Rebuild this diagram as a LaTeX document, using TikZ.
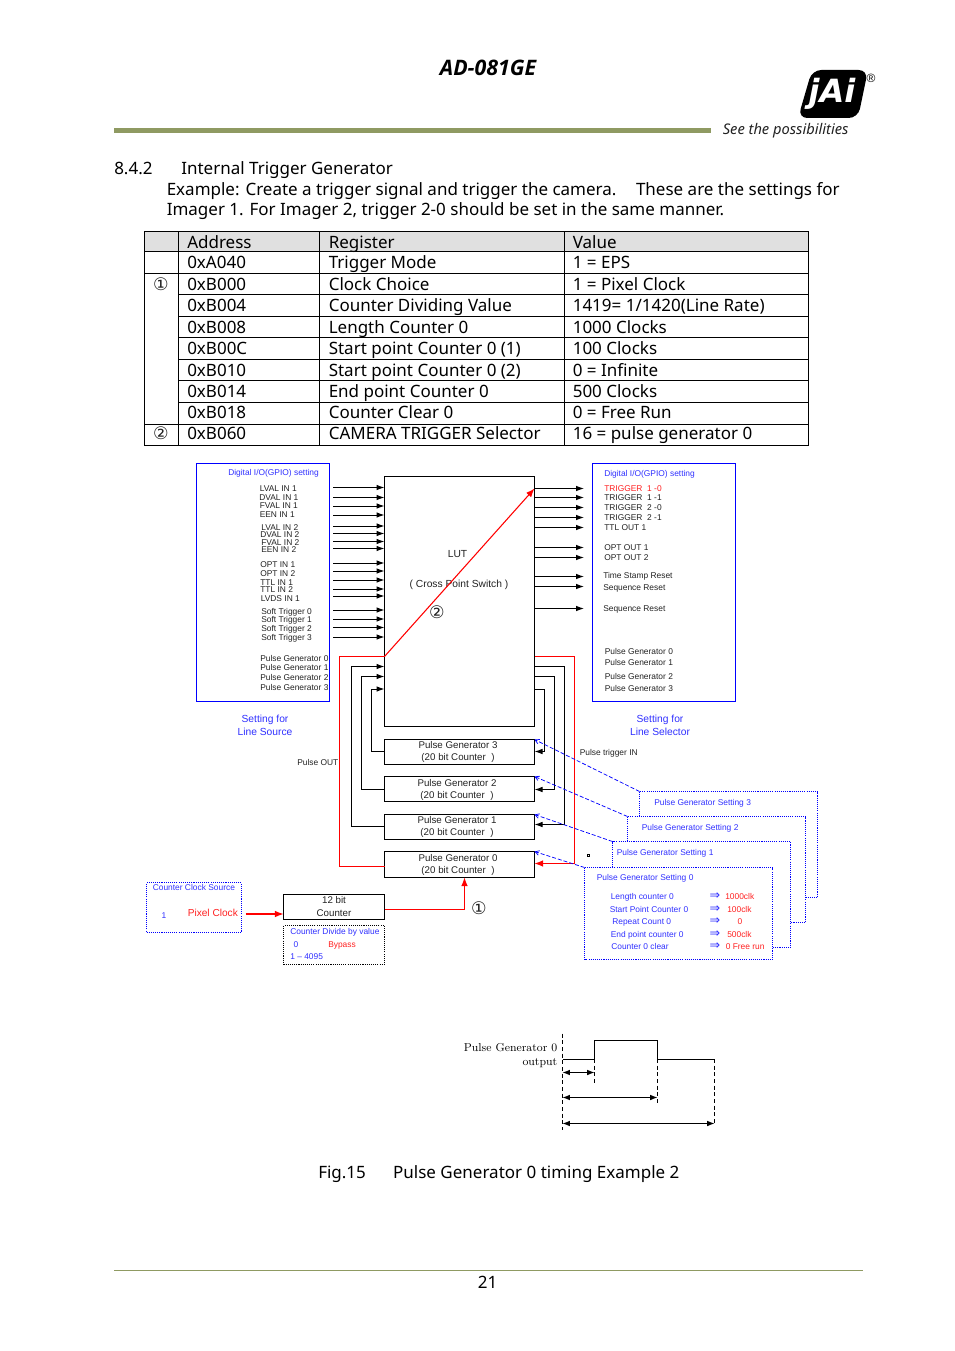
\documentclass[tikz,border=0pt]{standalone}
\usepackage{fontspec}
\usetikzlibrary{arrows.meta,calc}
\newfontfamily\bodyf{Noto Sans}
\newfontfamily\titlef{Open Sans}
\newfontfamily\uif{Liberation Sans}
\newfontfamily\dv{DejaVu Sans}
\definecolor{olivebar}{HTML}{8F9A62}
\definecolor{hdrgray}{HTML}{E0E0E0}
\definecolor{ink}{HTML}{222222}
\definecolor{bluetxt}{HTML}{3030FF}
\definecolor{redtxt}{HTML}{FF2020}
\newcommand\bx[6]{%
 \pgfmathsetlengthmacro\bw{(#5-#3)*0.75pt}%
 \pgfmathsetlengthmacro\bh{(#6-#4)*0.75pt}%
 \node[#1,minimum width=\bw,minimum height=\bh,inner sep=0pt,outer sep=0pt] (#2) at ({(#3+#5)/2},{(#4+#6)/2}) {};}
\begin{document}
\begin{tikzpicture}[x=0.75pt,y=-0.75pt,
 lab/.style={anchor=base west,yshift=-2.3pt,inner sep=0pt,text=ink,font={\uif\fontsize{6.3pt}{7pt}\selectfont}},
 blab/.style={lab,text=bluetxt},
 rlab/.style={lab,text=redtxt},
 mid/.style={lab,anchor=base,font={\uif\fontsize{7.3pt}{8pt}\selectfont}},
 bigb/.style={anchor=base,yshift=-2.5pt,inner sep=0pt,text=bluetxt,font={\uif\fontsize{7.7pt}{8pt}\selectfont}},
 bodyt/.style={anchor=base west,yshift=-4.7pt,inner sep=0pt,text=black,font={\bodyf\fontsize{12.75pt}{15pt}\selectfont}},
 circ/.style={anchor=center,inner sep=0pt,text=ink,font={\dv\fontsize{13pt}{14pt}\selectfont}},
 blk/.style={draw=black,line width=0.75pt},
 bluebox/.style={draw=blue,line width=0.75pt},
 dotb/.style={draw=blue,line width=0.7pt,dash pattern=on 0.8pt off 0.8pt},
 dotk/.style={draw=black,line width=0.7pt,dash pattern=on 0.8pt off 0.8pt},
 arr/.style={draw=black,line width=0.75pt,-{Latex[length=6pt,width=4.2pt]}},
 rarr/.style={draw=red,line width=0.8pt,-{Latex[length=6.5pt,width=5pt]}},
 blarr/.style={draw=blue,line width=0.55pt,dash pattern=on 3pt off 1.5pt,-{Straight Barb[length=3pt,width=3.5pt]}},
 dblarr/.style={draw=black,line width=0.75pt,{Latex[length=5.5pt,width=4.2pt]}-{Latex[length=5.5pt,width=4.2pt]}},
 tline/.style={draw=black,line width=0.75pt},
 tdash/.style={draw=black,line width=0.6pt,dash pattern=on 3pt off 2pt},
 serif/.style={anchor=base east,yshift=-2.4pt,inner sep=0pt,text=black,font={\fontsize{8.6pt}{10pt}\selectfont}},
]
\useasboundingbox (0,0) rectangle (954,1351);
% ---- header
\node[anchor=center,inner sep=0pt,text=black,font={\titlef\bfseries\itshape\fontsize{16pt}{18pt}\selectfont}] (title) at (488,68) {AD-081GE};
\fill[olivebar] (114,128) rectangle (711,133);
\fill[black,rounded corners=7pt] (812,70) -- (868,70) -- (858,118) -- (798,118) -- cycle;
\node[anchor=center,inner sep=0pt,text=white,font={\dv\bfseries\itshape\fontsize{24pt}{26pt}\selectfont}] (logo) at (832,94) {jAi};
\node[anchor=center,inner sep=0pt,text=black,font={\uif\fontsize{9pt}{10pt}\selectfont}] (reg) at (871,78) {®};
\node[anchor=base west,inner sep=0pt,text=ink,font={\bodyf\itshape\fontsize{11pt}{12pt}\selectfont}] (see) at (722.5,134.5) {See the possibilities};
% ---- heading
\node[bodyt] (sec) at (114,168) {8.4.2};
\node[bodyt] (sect) at (181,168) {Internal Trigger Generator};
\node[bodyt] (p1) at (166.5,189) {Example: Create a trigger signal and trigger the camera.\hspace{1.15em}These are the settings for};
\node[bodyt] (p2) at (166.5,209) {Imager 1. For Imager 2, trigger 2-0 should be set in the same manner.};
% ---- table
\fill[hdrgray] (144,232) rectangle (808,252);
\foreach \y in {252,274,424} {\draw[tline] (144,\y) -- (808,\y);}
\foreach \y in {295,317,338,360,381,402} {\draw[tline] (178,\y) -- (808,\y);}
\draw[tline] (144,232) rectangle (808,445);
\foreach \x in {178,319,564} {\draw[tline] (\x,232) -- (\x,445);}
\foreach \i/\y/\a/\r/\v in {
 0/242/Address/Register/Value,
 1/262/0xA040/Trigger Mode/1 = EPS,
 2/284/0xB000/Clock Choice/1 = Pixel Clock,
 3/305/0xB004/Counter Dividing Value/1419= 1\slash 1420(Line Rate),
 4/327/0xB008/Length Counter 0/1000 Clocks,
 5/348/0xB00C/Start point Counter 0 (1)/100 Clocks,
 6/370/0xB010/Start point Counter 0 (2)/0 = Infinite,
 7/391/0xB014/End point Counter 0/500 Clocks,
 8/412/0xB018/Counter Clear 0/0 = Free Run,
 9/433/0xB060/CAMERA TRIGGER Selector/16 = pulse generator 0}{
 \node[bodyt] (ta\i) at (187,\y) {\a};
 \node[bodyt] (tr\i) at (328.5,\y) {\r};
 \node[bodyt] (tv\i) at (572.5,\y) {\v};
}
\node[circ] (tc1) at (161,284.5) {①};
\node[circ] (tc2) at (161,433.5) {②};
% ---- main boxes
\bx{bluebox}{srcbox}{196.5}{463.5}{329.5}{701.5}
\bx{bluebox}{selbox}{592.5}{463.5}{735.5}{701.5}
\bx{blk}{lut}{384.5}{476.5}{534.5}{726}
\bx{blk}{pg3}{384.5}{739.5}{534.5}{764.5}
\bx{blk}{pg2}{384.5}{776.5}{534.5}{801.5}
\bx{blk}{pg1}{384.5}{814.5}{534.5}{839.5}
\bx{blk}{pg0}{384.5}{851.5}{534.5}{877.5}
\bx{blk}{cnt}{283.5}{894.5}{384.5}{919.5}
\bx{dotk}{div}{283.5}{925.5}{384.5}{964.5}
\bx{dotb}{clk}{146.5}{882.5}{241.5}{932.5}
% ---- input arrows
\foreach \i/\y in {1/487.5,2/497.5,3/506,4/515,5/526,6/533.5,7/541.5,8/548.5,9/563,10/571,11/580,12/589,13/596,14/610,15/619,16/627.5,17/637}{
 \coordinate (in\i) at (333,\y);
 \draw[arr] (in\i) -- (in\i -| lut.west);
}
% ---- output arrows
\foreach \i/\y in {1/488.5,2/497.5,3/507.5,4/517.5,5/527.5,6/547.5,7/557.5,8/576.5,9/586.5,10/608.5}{
 \coordinate (out\i) at (584,\y);
 \draw[arr] (out\i -| lut.east) -- (out\i);
}
% ---- left labels
\node[blab] (lh) at (228,472) {Digital I/O(GPIO) setting};
\foreach \i/\x/\y/\t in {1/259.5/488/LVAL IN 1,2/259/497/DVAL IN 1,3/259.5/505/FVAL IN 1,4/259.5/514/EEN IN 1,
 5/261/527/LVAL IN 2,6/260/534/DVAL IN 2,7/261/542/FVAL IN 2,8/261/549/EEN IN 2,
 9/260/564/OPT IN 1,10/260/573/OPT IN 2,11/260/582/TTL IN 1,12/260/589/TTL IN 2,13/260.5/598/LVDS IN 1,
 14/261/611/Soft Trigger 0,15/261/619/Soft Trigger 1,16/261/628/Soft Trigger 2,17/261/637/Soft Trigger 3,
 18/260/658/Pulse Generator 0,19/260/667/Pulse Generator 1,20/260/677/Pulse Generator 2,21/260/687/Pulse Generator 3}{
 \node[lab] (ll\i) at (\x,\y) {\t};
}
\node[bigb] (ls1) at (265,719.5) {Setting for};
\node[bigb] (ls2) at (265,732.5) {Line Source};
% ---- right labels
\node[blab] (rh) at (604,473) {Digital I/O(GPIO) setting};
\node[rlab] (rl1) at (604,488) {TRIGGER\ \ 1 -0};
\foreach \i/\x/\y/\t in {2/604/497/TRIGGER\ \ 1 -1,3/604/507/TRIGGER\ \ 2 -0,4/604/517/TRIGGER\ \ 2 -1,5/604/527/TTL OUT 1,
 6/604/547/OPT OUT 1,7/604/557/OPT OUT 2,8/603/575/Time Stamp Reset,9/603/587/Sequence Reset,10/603/608/Sequence Reset,
 11/604.5/651/Pulse Generator 0,12/604.5/662/Pulse Generator 1,13/604.5/676/Pulse Generator 2,14/604.5/688/Pulse Generator 3}{
 \node[lab] (rl\i) at (\x,\y) {\t};
}
\node[bigb] (rs1) at (660,719.5) {Setting for};
\node[bigb] (rs2) at (660,732.5) {Line Selector};
% ---- LUT
\node[mid,font={\uif\fontsize{7.7pt}{8pt}\selectfont}] (luttxt) at (457.5,554) {LUT};
\node[mid,font={\uif\fontsize{7.7pt}{8pt}\selectfont}] (cps) at (459,584.5) {(\ Cross Point Switch\ )};
\node[circ] (c2) at (437,612.5) {②};
% ---- PG labels
\node[mid] (p3a) at (458,745) {Pulse Generator 3};
\node[mid] (p3b) at (458,757) {(20 bit Counter\ \ )};
\node[mid] (p2a) at (457,783) {Pulse Generator 2};
\node[mid] (p2b) at (457,795) {(20 bit Counter\ \ )};
\node[mid] (p1a) at (457,820) {Pulse Generator 1};
\node[mid] (p1b) at (457,832.5) {(20 bit Counter\ \ )};
\node[mid] (p0a) at (458,858) {Pulse Generator 0};
\node[mid] (p0b) at (458,870) {(20 bit Counter\ \ )};
\node[lab] (pout) at (297,762) {Pulse OUT};
\node[lab] (ptin) at (579.5,752) {Pulse trigger IN};
% ---- feedback loops
\coordinate (r3) at (534.5,689); \coordinate (r2) at (534.5,676.5); \coordinate (r1) at (534.5,666.5); \coordinate (r0) at (534.5,656.5);
\coordinate (l3) at (384.5,689); \coordinate (l2) at (384.5,676.5); \coordinate (l1) at (384.5,666.5); \coordinate (l0) at (384.5,656.5);
\coordinate (in3) at (534.5,751.5); \coordinate (in2x) at (534.5,789.5); \coordinate (in1x) at (534.5,824.5); \coordinate (in0x) at (534.5,863.5);
\coordinate (t3) at (384.5,751.5); \coordinate (t2) at (384.5,789.5); \coordinate (t1) at (384.5,826.5); \coordinate (t0) at (384.5,866.5);
\draw[arr] (t3) -- (371.5,751.5) -- (371.5,689) -- (l3);
\draw[arr] (t2) -- (361.5,789.5) -- (361.5,676.5) -- (l2);
\draw[arr] (t1) -- (351.5,826.5) -- (351.5,666.5) -- (l1);
\draw[arr] (r3) -- (544.5,689) -- (544.5,751.5) -- (in3);
\draw[arr] (r2) -- (554.5,676.5) -- (554.5,789.5) -- (in2x);
\draw[arr] (r1) -- (564.5,666.5) -- (564.5,824.5) -- (in1x);
\draw[draw=red,line width=0.9pt] (t0) -- (339.5,866.5) -- (339.5,656.5) -- (l0);
\coordinate (lutout) at (534.5,488.5);
\draw[rarr] (l0) -- (lutout);
\draw[rarr] (r0) -- (574.5,656.5) -- (574.5,863.5) -- (in0x);
% ---- settings panels
\coordinate (s3tl) at (639.5,791.5); \coordinate (s2tl) at (627.5,816.5); \coordinate (s1tl) at (612.5,841.5); \coordinate (s0tl) at (584.5,867.5);
\draw[dotb] (639.5,816.5) -- (s3tl) -- (817.5,791.5) -- (817.5,897.5) -- (805.5,897.5);
\draw[dotb] (627.5,841.5) -- (s2tl) -- (805.5,816.5) -- (805.5,922.5) -- (790.5,922.5);
\draw[dotb] (612.5,867.5) -- (s1tl) -- (790.5,841.5) -- (790.5,947.5) -- (772.5,947.5);
\draw[dotb] (s0tl) rectangle (772.5,959.5);
\coordinate (pg3tr) at (534.5,739.5); \coordinate (pg2tr) at (534.5,776.5); \coordinate (pg1tr) at (534.5,814.5); \coordinate (pg0tr) at (534.5,851.5);
\draw[blarr] (s3tl) -- (pg3tr);
\draw[blarr] (s2tl) -- (pg2tr);
\draw[blarr] (s1tl) -- (pg1tr);
\draw[blarr] (s0tl) -- (pg0tr);
\draw[draw=black,line width=0.6pt,fill=white] (587.3,854.3) rectangle (589.3,856.3);
\node[blab] (st3) at (654,802) {Pulse Generator Setting 3};
\node[blab] (st2) at (641.5,827) {Pulse Generator Setting 2};
\node[blab] (st1) at (616.5,852) {Pulse Generator Setting 1};
\node[blab] (st0) at (596.5,877) {Pulse Generator Setting 0};
\foreach \i/\x/\y/\t in {1/610.5/896/Length counter 0,2/609.5/909/Start Point Counter 0,3/612/921/Repeat Count 0,4/610.5/934/End point counter 0,5/611/946/Counter 0 clear}{
 \node[blab] (sn\i) at (\x,\y) {\t};
 \node[anchor=center,inner sep=0pt,text=bluetxt,font={\dv\fontsize{9.5pt}{10pt}\selectfont}] (sa\i) at (715,\y) {⇒};
}
\node[rlab] (sv1) at (725,896) {1000clk};
\node[rlab] (sv2) at (727,909) {100clk};
\node[rlab,anchor=base] (sv3) at (740,921) {0};
\node[rlab] (sv4) at (727,934) {500clk};
\node[rlab] (sv5) at (725.5,946) {0 Free run};
% ---- counter chain
\node[blab] (cc1) at (152.5,887) {Counter Clock Source};
\node[blab,anchor=base] (cc2) at (164,915) {1};
\node[rlab,font={\uif\fontsize{7.6pt}{8pt}\selectfont}] (cc3) at (187.5,913) {Pixel Clock};
\coordinate (clkout) at (245.5,914);
\draw[rarr] (clkout) -- (clkout -| cnt.west);
\node[mid] (c12) at (334,900) {12 bit};
\node[mid] (ccn) at (334,913) {Counter};
\node[blab] (d1) at (290,931) {Counter Divide by value};
\node[blab,anchor=base] (d2) at (296,944) {0};
\node[rlab] (d3) at (328,944) {Bypass};
\node[blab] (d4) at (290,956) {1 – 4095};
\coordinate (cout) at (384.5,909.5);
\coordinate (pgin) at (464.5,877.5);
\draw[rarr] (cout) -- (464.5,909.5) -- (pgin);
\node[circ] (c1) at (479,908.5) {①};
% ---- timing
\node[serif] (tm1) at (557.5,1048) {Pulse Generator 0};
\node[serif] (tm2) at (557.5,1062) {output};
\coordinate (sg0) at (562.5,1059); \coordinate (sg1) at (594.5,1059); \coordinate (sg2) at (594.5,1040.5); \coordinate (sg3) at (657.5,1040.5); \coordinate (sg4) at (657.5,1059); \coordinate (sg5) at (714.5,1059);
\draw[tline] (sg0) -- (sg1) -- (sg2) -- (sg3) -- (sg4) -- (sg5);
\coordinate (d0t) at (562.5,1033.5); \coordinate (d0b) at (562.5,1130);
\coordinate (d1b) at (594.5,1085); \coordinate (d2b) at (657.5,1103); \coordinate (d3b) at (714.5,1123.5);
\draw[tdash] (d0t) -- (d0b);
\draw[tdash] (sg1) -- (d1b);
\draw[tdash] (sg4) -- (d2b);
\draw[tdash] (sg5) -- (d3b);
\coordinate (a1) at (562.5,1072.5); \coordinate (a2) at (562.5,1097.5); \coordinate (a3) at (562.5,1123.5);
\draw[dblarr] (a1) -- (a1 -| d1b);
\draw[dblarr] (a2) -- (a2 -| d2b);
\draw[dblarr] (a3) -- (a3 -| d3b);
% ---- caption and footer
\node[bodyt] (cap) at (318,1172) {Fig.15\hspace{1.6em}Pulse Generator 0 timing Example 2};
\draw[draw=olivebar,line width=0.75pt] (114,1270.5) -- (863,1270.5);
\node[bodyt,anchor=base] (pn) at (487.5,1282) {21};
\end{tikzpicture}
\end{document}
